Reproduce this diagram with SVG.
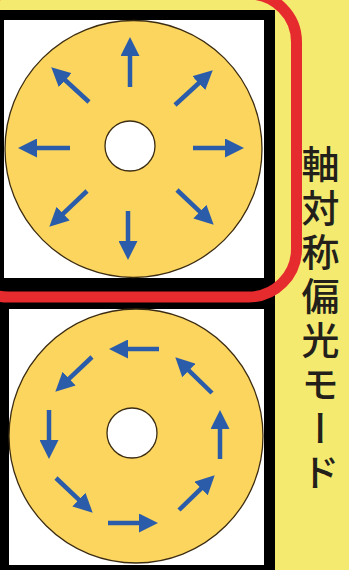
<svg xmlns="http://www.w3.org/2000/svg" width="349" height="570" viewBox="0 0 349 570">
<style>
.disk{fill:#fcd55f;stroke:#3b2c12;stroke-width:1.3}
.hole{fill:#ffffff;stroke:#3b2c12;stroke-width:1.3}
.arr{stroke:#2b5caa;stroke-width:4.5;fill:none;marker-end:url(#head)}
.label{font-family:"Noto Sans CJK JP","Noto Sans CJK SC",sans-serif;font-size:38px;font-weight:500;fill:#231f1a;writing-mode:vertical-rl;letter-spacing:6px}
</style>
<defs>
<marker id="head" viewBox="0 0 19 19" refX="1" refY="9.5" markerWidth="19" markerHeight="19" markerUnits="userSpaceOnUse" orient="auto">
<path d="M0,0 L19,9.5 L0,19 z" fill="#2b5caa"/>
</marker>
</defs>
<rect x="0" y="0" width="349" height="570" fill="#f5ea70"/>
<rect x="0" y="10" width="275" height="560" fill="#000"/>
<g id="panel-radial">
<rect x="4" y="20" width="260" height="258" fill="#fff"/>
<circle class="disk" cx="133.5" cy="149" r="128.5"/>
<circle class="hole" cx="130" cy="146" r="25"/>
<g id="radial-arrows">
<line class="arr" x1="130" y1="87" x2="130" y2="55"/>
<line class="arr" x1="175" y1="105" x2="199.5" y2="82.5"/>
<line class="arr" x1="193" y1="148" x2="226" y2="148"/>
<line class="arr" x1="177" y1="190" x2="200.6" y2="212.3"/>
<line class="arr" x1="128" y1="211" x2="128" y2="242"/>
<line class="arr" x1="87" y1="191" x2="62.4" y2="214.3"/>
<line class="arr" x1="70" y1="148" x2="36" y2="148"/>
<line class="arr" x1="89" y1="102" x2="64.5" y2="79.5"/>
</g>
</g>
<g id="panel-azimuthal">
<rect x="9" y="309" width="255" height="256" fill="#fff"/>
<circle class="disk" cx="136" cy="436" r="127"/>
<circle class="hole" cx="132" cy="433" r="25"/>
<g id="azimuthal-arrows">
<line class="arr" x1="159" y1="349" x2="127" y2="349"/>
<line class="arr" x1="92" y1="357" x2="68.4" y2="379.3"/>
<line class="arr" x1="49" y1="410" x2="49" y2="441"/>
<line class="arr" x1="56" y1="478" x2="79.6" y2="500.3"/>
<line class="arr" x1="108" y1="523" x2="140" y2="523"/>
<line class="arr" x1="179" y1="510" x2="201.8" y2="487.8"/>
<line class="arr" x1="220" y1="459" x2="220" y2="428"/>
<line class="arr" x1="212" y1="393" x2="188.2" y2="369.8"/>
</g>
</g>
<g id="highlight">
<rect x="-40" y="-6" width="336.5" height="303" rx="48" ry="48" fill="none" stroke="#e62b2f" stroke-width="11"/>
</g>
<g id="label">
<text class="label" x="320.5" y="145">軸対称偏光モード</text>
</g>
</svg>
